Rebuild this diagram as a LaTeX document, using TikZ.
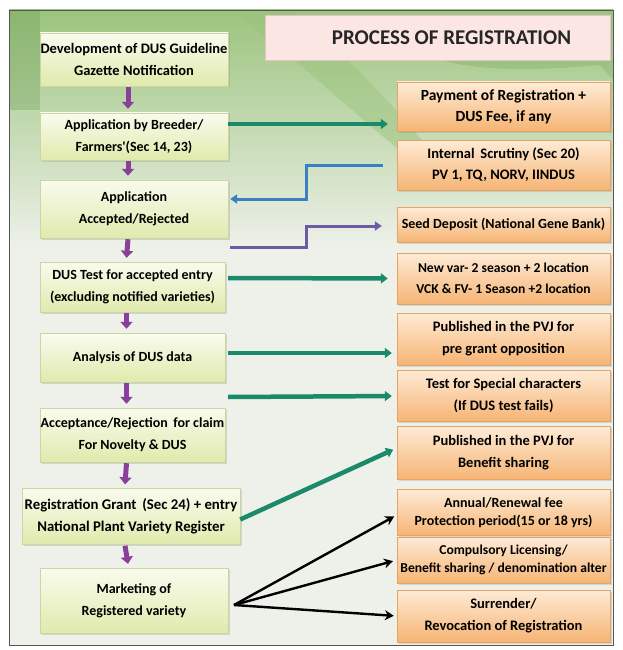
\documentclass[tikz,border=0pt]{standalone}
\usepackage{fontspec}
\newfontfamily\cf{Carlito}
\usetikzlibrary{arrows.meta,shadows}
\definecolor{bgc}{HTML}{EEF1EA}
\definecolor{leaf}{HTML}{9CC47E}
\definecolor{leafd}{HTML}{6E9E55}
\definecolor{ltop}{HTML}{FAFBEE}
\definecolor{lbot}{HTML}{E0EAAC}
\definecolor{lbrd}{HTML}{CCD6A0}
\definecolor{rtop}{HTML}{FEEBD6}
\definecolor{rbot}{HTML}{F6B474}
\definecolor{rbrd}{HTML}{E8A262}
\definecolor{tfill}{HTML}{FCE6E4}
\definecolor{tbrd}{HTML}{E2C6C4}
\definecolor{garr}{HTML}{1B8A6B}
\definecolor{barr}{HTML}{3B7FC4}
\definecolor{parr}{HTML}{6B5CA5}
\definecolor{darr}{HTML}{8A3F9A}
\definecolor{frm}{HTML}{555555}
\newcommand\fsz[2]{\cf\bfseries\fontsize{#1}{#2}\selectfont}
\tikzset{
  lbox/.style={draw=lbrd, top color=ltop, bottom color=lbot, align=center, inner sep=0pt,
    font=\fsz{14}{22}, text=black,
    drop shadow={opacity=0.25, shadow xshift=1.5pt, shadow yshift=-1.5pt}},
  rbox/.style={draw=rbrd, top color=rtop, bottom color=rbot, align=center, inner sep=0pt,
    minimum width=213pt, font=\fsz{13.6}{21}, text=black,
    drop shadow={opacity=0.25, shadow xshift=1.5pt, shadow yshift=-1.5pt}},
  titlebox/.style={draw=tbrd, fill=tfill, minimum width=345pt, minimum height=45pt,
    font=\fsz{21}{24}, text=black!85,
    drop shadow={opacity=0.2, shadow xshift=1.5pt, shadow yshift=-1.5pt}},
  downarr/.style={draw=darr, line width=5pt, -{Triangle[width=12pt,length=7pt]}},
  garrow/.style={draw=garr, line width=4.5pt, -{Triangle[width=10pt,length=7pt]}},
  barrow/.style={draw=barr, line width=3pt, -{Triangle[width=9pt,length=7pt]}},
  parrow/.style={draw=parr, line width=3pt, -{Triangle[width=9pt,length=7pt]}},
  karrow/.style={draw=black, line width=2.4pt, -{Stealth[width=10pt,length=9pt]}},
}
\begin{document}
\begin{tikzpicture}[x=1pt,y=-1pt]
\useasboundingbox (0,0) rectangle (622,650);
\fill[white] (0,0) rectangle (622,650);
% background
\fill[bgc] (9,10) rectangle (613,645);
\shade[top color=leaf, bottom color=bgc] (9,10) rectangle (613,250);
\fill[leafd, opacity=0.35] (9,10) rectangle (40,110);
\fill[leaf, opacity=0.5] (230,10) .. controls (300,60) and (360,120) .. (400,150) -- (430,150) .. controls (390,100) and (330,40) .. (290,10) -- cycle;
\fill[leafd, opacity=0.25] (440,60) .. controls (480,70) and (520,72) .. (600,65) -- (613,80) -- (613,60) -- cycle;
\draw[frm, line width=0.8pt] (9,10) rectangle (613,645);

% title
\node[titlebox] (title) at (437.5,37.5) {\hspace*{28pt}PROCESS OF REGISTRATION};

% left column
\node[lbox, minimum width=188pt, minimum height=53pt, font=\fsz{14.5}{22}] (L1) at (134,59.5) {Development of DUS Guideline\\Gazette Notification};
\node[lbox, minimum width=188pt, minimum height=47pt] (L2) at (134,136.5) {Application by Breeder/\\Farmers'(Sec 14, 23)};
\node[lbox, minimum width=188pt, minimum height=58pt] (L3) at (134,209) {Application\\Accepted/Rejected};
\node[lbox, minimum width=185pt, minimum height=50pt] (L4) at (132.5,287) {DUS Test for accepted entry\\(excluding notified varieties)};
\node[lbox, minimum width=185pt, minimum height=49pt] (L5) at (132.5,357.5) {Analysis of DUS data};
\node[lbox, minimum width=185pt, minimum height=54pt] (L6) at (132.5,435) {Acceptance/Rejection\, for claim\\For Novelty \& DUS};
\node[lbox, minimum width=218pt, minimum height=56pt, font=\fsz{14.8}{22}] (L7) at (131,516.5) {Registration Grant\, (Sec 24) + entry\\National Plant Variety Register};
\node[lbox, minimum width=188pt, minimum height=65pt] (L8) at (134,600.5) {Marketing of\\Registered variety};

% right column
\node[rbox, minimum height=49pt, font=\fsz{15.5}{21}] (R1) at (503.5,106.5) {Payment of Registration +\\DUS Fee, if any};
\node[rbox, minimum height=50pt, font=\fsz{14.5}{21}] (R2) at (503.5,165) {Internal\, Scrutiny (Sec 20)\\PV 1, TQ, NORV, IINDUS};
\node[rbox, minimum height=35pt, font=\fsz{14}{21}] (R3) at (503.5,224.5) {Seed Deposit (National Gene Bank)};
\node[rbox, minimum height=51pt] (R4) at (503.5,278.5) {New var- 2 season + 2 location\\VCK \& FV- 1 Season +2 location};
\node[rbox, minimum height=52pt, font=\fsz{14.5}{22}] (R5) at (503.5,339) {Published in the PVJ for\\pre grant opposition};
\node[rbox, minimum height=51pt, font=\fsz{14.5}{22}] (R6) at (503.5,396) {Test for Special characters\\(If DUS test fails)};
\node[rbox, minimum height=53pt, font=\fsz{14.5}{22}] (R7) at (503.5,453) {Published in the PVJ for\\Benefit sharing};
\node[rbox, minimum height=46pt, font=\fsz{14}{18.5}] (R8) at (503.5,512.5) {Annual/Renewal fee\\Protection period(15 or 18 yrs)};
\node[rbox, minimum height=46pt, font=\fsz{13.6}{18.5}] (R9) at (503.5,560) {Compulsory Licensing/\\Benefit sharing / denomination alter};
\node[rbox, minimum height=52pt, font=\fsz{14.5}{22}] (R10) at (503.5,616) {Surrender/\\Revocation of Registration};

% down arrows
\foreach \a/\b in {L1/L2,L2/L3,L3/L4,L4/L5,L5/L6,L6/L7,L7/L8}
  \draw[downarr] ([xshift=-6pt,yshift=-1pt]\a.south) -- ([xshift=-6pt,yshift=4pt]\b.north);

% green arrows
\draw[garrow, shorten >=9pt] ([yshift=12.5pt]L2.east) -- ([yshift=-17.5pt]R1.west);
\draw[garrow, shorten >=9pt] ([xshift=3pt,yshift=9pt]L4.east) -- (R4.west);
\draw[garrow, shorten >=5pt] ([xshift=3pt,yshift=4.5pt]L5.east) -- ([yshift=-14pt]R5.west);
\coordinate (g6) at (228,397);
\draw[garrow, shorten >=5pt] (g6) -- (R6.west);
\draw[garrow, shorten >=4pt] ([yshift=-3pt]L7.east) -- ([yshift=5pt]R7.west);

% blue and purple connectors
\coordinate (bturn) at (306,165);
\draw[barrow, line join=miter] ([xshift=-14pt]R2.west) -- (bturn) -- (306,199) -- ([xshift=2pt,yshift=10pt]L3.east);
\coordinate (pstart) at (230,247);
\draw[parrow, line join=miter] (pstart) -- (306,247) -- (306,226) -- ([xshift=-15pt,yshift=-1.5pt]R3.west);

% black arrows
\coordinate (m) at (234,605);
\draw[karrow, shorten >=3pt] (m) -- ([yshift=-2.5pt]R8.west);
\draw[karrow, shorten >=4pt] (m) -- (R9.west);
\draw[karrow, shorten >=3pt] (m) -- (R10.west);
\end{tikzpicture}
\end{document}
